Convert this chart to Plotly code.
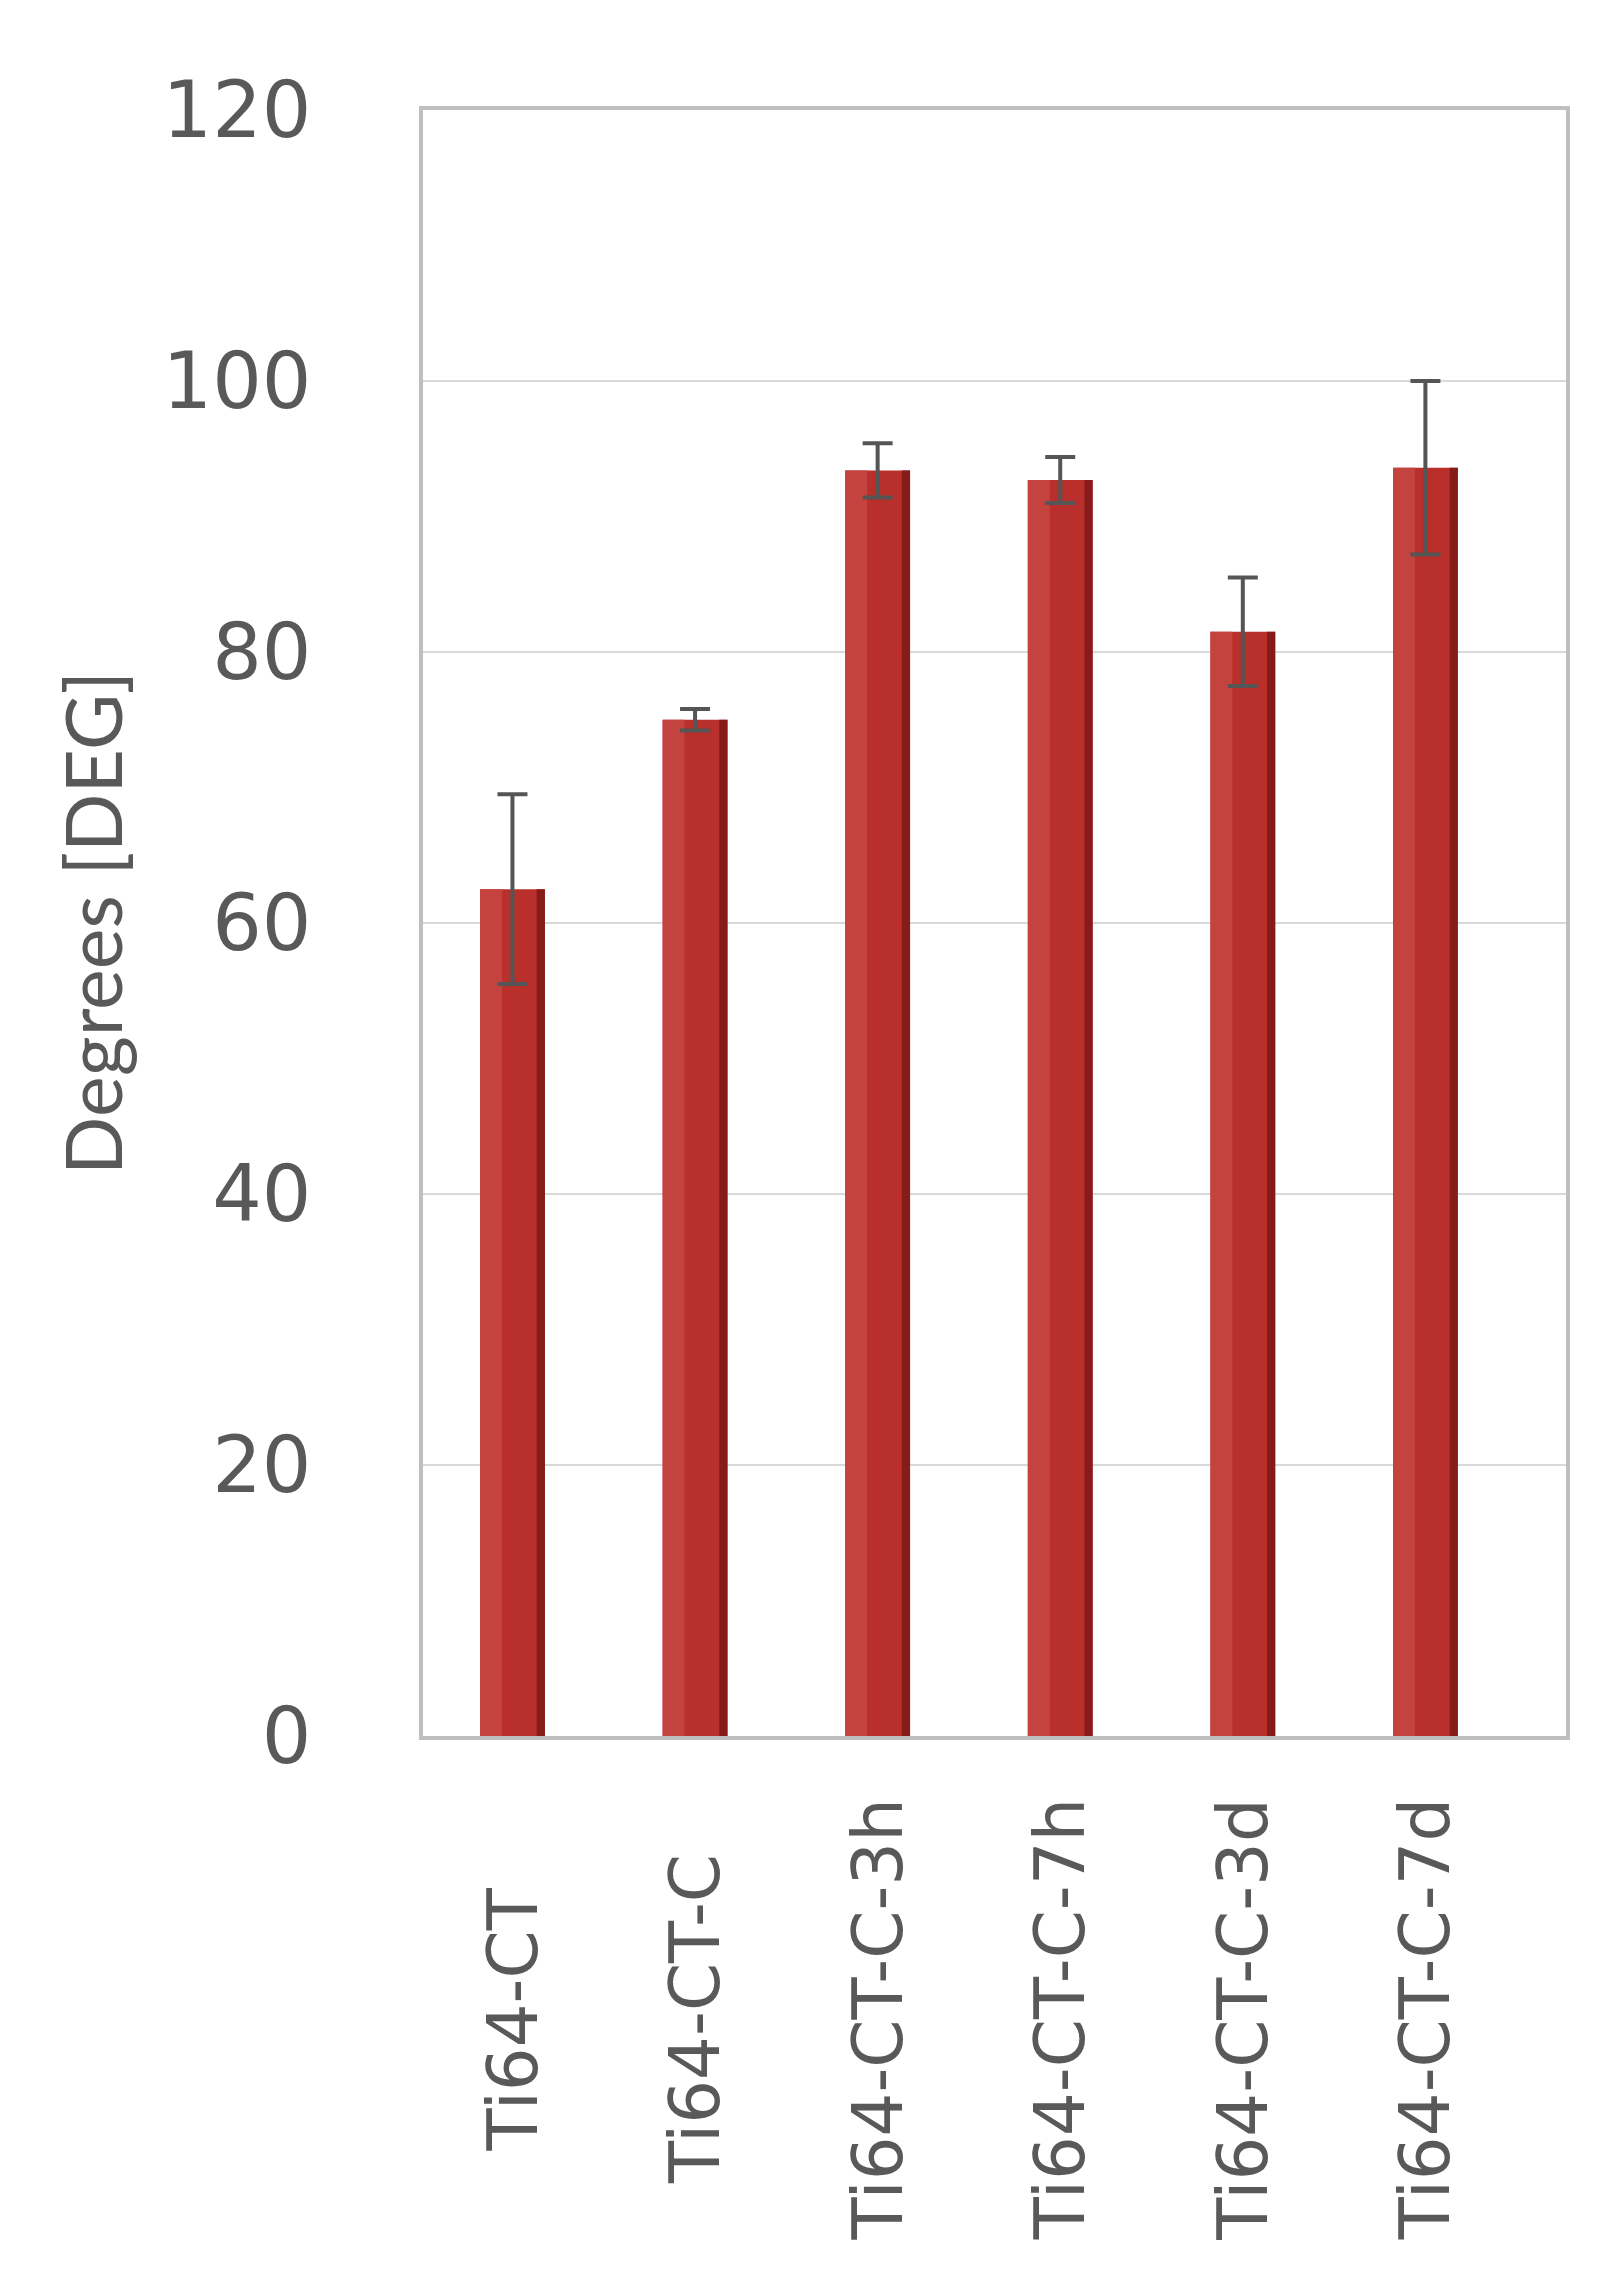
import plotly.graph_objects as go

# Données
samples = ["Ti64-CT", "Ti64-CT-C", "Ti64-CT-C-3h", "Ti64-CT-C-7h", "Ti64-CT-C-3d", "Ti64-CT-C-7d"]
angles = [62.5, 75.0, 93.4, 92.7, 81.5, 93.6]
errors = [7.0, 0.8, 2.0, 1.7, 4.0, 6.4]
y_ticks = [0, 20, 40, 60, 80, 100, 120]

fig = go.Figure()

# barre principale
fig.add_trace(go.Bar(
    x=samples, y=angles, width=0.355,
    marker=dict(color="#B82F2B", line=dict(width=0)),
    showlegend=False,
))
# bord droit plus sombre (effet de dégradé)
fig.add_trace(go.Bar(
    x=samples, y=angles, width=0.045, offset=0.1325,
    marker=dict(color="#861C19", line=dict(width=0)),
    showlegend=False,
))
# partie gauche plus claire
fig.add_trace(go.Bar(
    x=samples, y=angles, width=0.12, offset=-0.1775,
    marker=dict(color="#C4433F", line=dict(width=0)),
    showlegend=False,
))
# barres d'erreur
fig.add_trace(go.Scatter(
    x=samples, y=angles, mode="markers",
    marker=dict(size=1, opacity=0),
    error_y=dict(type="data", array=errors, color="#555555", thickness=4, width=15),
    showlegend=False,
))

# étiquettes des catégories, centrées sous l'axe
for s in samples:
    fig.add_annotation(
        x=s, xref="x", y=-0.174, yref="paper",
        text=s, textangle=-90, showarrow=False,
        xanchor="center", yanchor="middle",
        font=dict(family="DejaVu Sans", size=69, color="#595959"),
    )

fig.update_layout(
    width=1612, height=2280,
    barmode="overlay",
    plot_bgcolor="white",
    paper_bgcolor="white",
    margin=dict(l=415, r=54, t=102, b=552),
    font=dict(family="DejaVu Sans", color="#595959"),
)
fig.update_xaxes(
    range=[-0.49, 5.77],
    showticklabels=False, ticks="",
    showgrid=False,
    showline=True, linecolor="#BFBFBF", linewidth=4, mirror=True,
)
fig.update_yaxes(
    range=[0, 120],
    tickvals=y_ticks,
    ticks="", ticklabelstandoff=92,
    tickfont=dict(family="DejaVu Sans", size=78, color="#595959"),
    showgrid=True, gridcolor="#D9D9D9", gridwidth=2,
    zeroline=False,
    showline=True, linecolor="#BFBFBF", linewidth=4, mirror=True,
    title=dict(
        text="Degrees [DEG]", standoff=16,
        font=dict(family="Lato", size=77, color="#595959"),
    ),
)

fig.write_html("out.html")
